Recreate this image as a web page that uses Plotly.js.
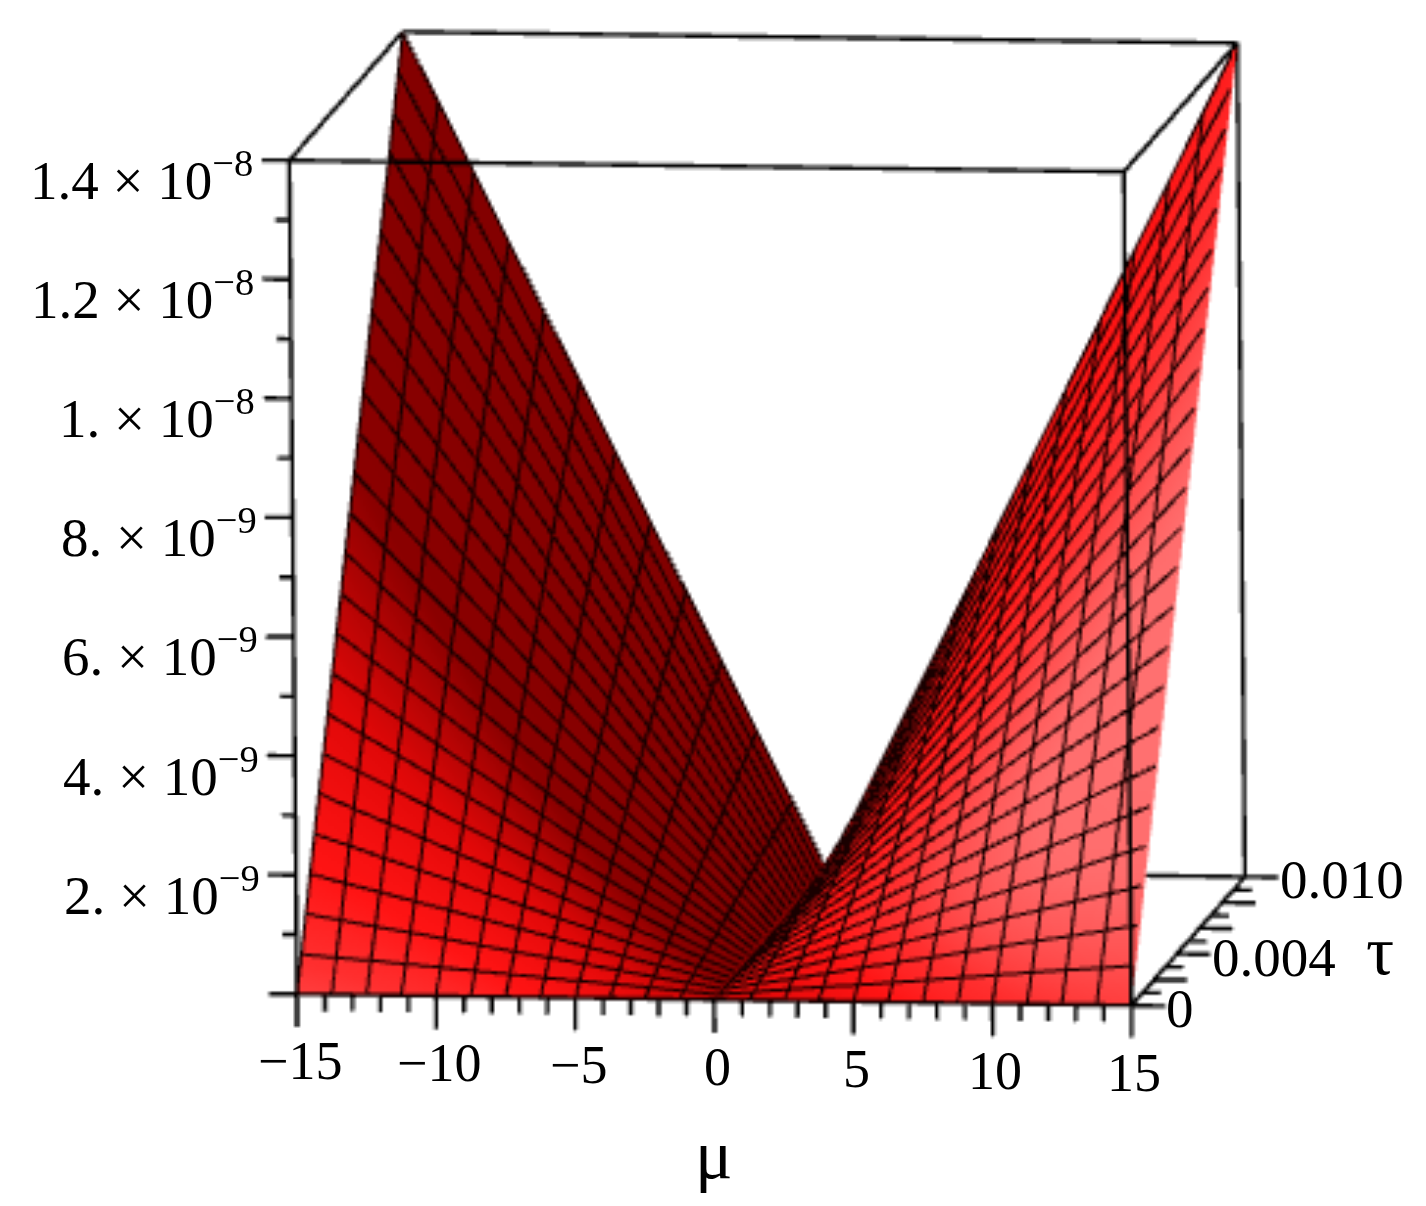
<!DOCTYPE html>
<html>
<head>
<meta charset="utf-8">
<script src="https://cdn.plot.ly/plotly-3.0.1.min.js"></script>
<style>html,body{margin:0;padding:0;background:#fff}#plot{width:1426px;height:1206px}#plot svg{filter:blur(0.6px)}</style>
</head>
<body>
<div id="plot"></div>
<script>
// grid: 25 lines each way
const muNegative = [-15,-13.75,-12.5,-11.25,-10,-8.75,-7.5,-6.25,-5,-3.75,-2.5,-1.25,0];
const muPositive = [0,1.25,2.5,3.75,5,6.25,7.5,8.75,10,11.25,12.5,13.75,15];
const tauValues = [0,0.000417,0.000833,0.00125,0.001667,0.002083,0.0025,0.002917,0.003333,0.00375,0.004167,0.004583,0.005,0.005417,0.005833,0.00625,0.006667,0.007083,0.0075,0.007917,0.008333,0.00875,0.009167,0.009583,0.01];
// height in units of 1e-8, one row per tau, columns for mu = 0 .. 15 (surface is mirrored about mu = 0)
const heightPositive = [
[0,0,0,0,0,0,0,0,0,0,0,0,0],
[0,.005,.010,.015,.019,.024,.029,.034,.039,.044,.049,.053,.058],
[0,.010,.019,.029,.039,.049,.058,.068,.078,.088,.097,.107,.117],
[0,.015,.029,.044,.058,.073,.088,.102,.117,.131,.146,.160,.175],
[0,.019,.039,.058,.078,.097,.117,.136,.156,.175,.194,.214,.233],
[0,.024,.049,.073,.097,.122,.146,.170,.194,.219,.243,.267,.292],
[0,.029,.058,.088,.117,.146,.175,.204,.233,.263,.292,.321,.350],
[0,.034,.068,.102,.136,.170,.204,.238,.272,.306,.340,.374,.408],
[0,.039,.078,.117,.156,.194,.233,.272,.311,.350,.389,.428,.467],
[0,.044,.088,.131,.175,.219,.263,.306,.350,.394,.438,.481,.525],
[0,.049,.097,.146,.194,.243,.292,.340,.389,.438,.486,.535,.583],
[0,.053,.107,.160,.214,.267,.321,.374,.428,.481,.535,.588,.642],
[0,.058,.117,.175,.233,.292,.350,.408,.467,.525,.583,.642,.700],
[0,.063,.126,.190,.253,.316,.379,.442,.506,.569,.632,.695,.758],
[0,.068,.136,.204,.272,.340,.408,.476,.544,.613,.681,.749,.817],
[0,.073,.146,.219,.292,.365,.438,.510,.583,.656,.729,.802,.875],
[0,.078,.156,.233,.311,.389,.467,.544,.622,.700,.778,.856,.933],
[0,.083,.165,.248,.331,.413,.496,.578,.661,.744,.826,.909,.992],
[0,.088,.175,.263,.350,.438,.525,.613,.700,.788,.875,.963,1.05],
[0,.092,.185,.277,.369,.462,.554,.647,.739,.831,.924,1.016,1.108],
[0,.097,.194,.292,.389,.486,.583,.681,.778,.875,.972,1.069,1.167],
[0,.102,.204,.306,.408,.510,.613,.715,.817,.919,1.021,1.123,1.225],
[0,.107,.214,.321,.428,.535,.642,.749,.856,.963,1.069,1.176,1.283],
[0,.112,.224,.335,.447,.559,.671,.783,.894,1.006,1.118,1.230,1.342],
[0,.117,.233,.350,.467,.583,.700,.817,.933,1.05,1.167,1.283,1.40]
];
const heightNegative = heightPositive.map(row => row.slice().reverse());

// tick values and labels
const muMajor = [-15,-10,-5,0,5,10,15];
const muMinor = [-14,-13,-12,-11,-9,-8,-7,-6,-4,-3,-2,-1,1,2,3,4,6,7,8,9,11,12,13,14];
const muLabels = ['\u221215','\u221210','\u22125','0','5','10','15'];
const tauMajor = [0,0.002,0.004,0.006,0.008,0.01];
const tauMinor = [0.001,0.003,0.005,0.007,0.009];
const tauLabelValues = [0,0.004,0.01];
const tauLabels = ['0','0.004','0.010'];
const zMajor = [0,0.2,0.4,0.6,0.8,1,1.2,1.4];
const zMinor = [0.1,0.3,0.5,0.7,0.9,1.1,1.3];
const zLabelValues = [0.2,0.4,0.6,0.8,1,1.2,1.4];
const zLabels = ['2.','4.','6.','8.','1.','1.2','1.4'];
const zExponents = ['\u22129','\u22129','\u22129','\u22129','\u22128','\u22128','\u22128'];

const muEnd = [-15,15], tauEnd = [0,0.01], zEnd = [0,1.4];

function segments(list) {
  const x = [], y = [], z = [];
  list.forEach(s => {
    x.push(s[0],s[3],null); y.push(s[1],s[4],null); z.push(s[2],s[5],null);
  });
  return {type:'scatter3d', mode:'lines', x, y, z, hoverinfo:'skip', showlegend:false,
          line:{color:'#000', width:8}, connectgaps:false};
}

// bounding box
const boxEdges = [];
muEnd.forEach(m => tauEnd.forEach(t => boxEdges.push([m,t,zEnd[0],m,t,zEnd[1]])));
muEnd.forEach(m => zEnd.forEach(h => boxEdges.push([m,tauEnd[0],h,m,tauEnd[1],h])));
tauEnd.forEach(t => zEnd.forEach(h => boxEdges.push([muEnd[0],t,h,muEnd[1],t,h])));

// tick marks
const tickEdges = [];
muMajor.forEach(m => tickEdges.push([m,0,0,m,0,-0.055]));
muMinor.forEach(m => tickEdges.push([m,0,0,m,0,-0.028]));
tauMajor.forEach(t => tickEdges.push([15,t,0,16.2,t,0]));
tauMinor.forEach(t => tickEdges.push([15,t,0,15.65,t,0]));
zMajor.forEach(h => tickEdges.push([-15,0,h,-16,0,h]));
zMinor.forEach(h => tickEdges.push([-15,0,h,-15.5,0,h]));

// shading: a light up front and to the left, applied to the facet normal of each side
const lightDir = [-0.4,-0.7,0.6];
const shadeStops = [[0,'#800000'],[0.48,'#8a0000'],[0.68,'#e00808'],[0.83,'#ff1414'],[0.9,'#ff3030'],[0.98,'#ff6c6c'],[1,'#ff7070']];
function shade(mus, side) {
  return tauValues.map(t => mus.map(m => {
    const tn = t/0.01, mn = Math.abs(m)/15;
    const n = [-2*tn*side,-mn,1];
    const len = Math.hypot(n[0],n[1],n[2]);
    return (n[0]*lightDir[0]+n[1]*lightDir[1]+n[2]*lightDir[2])/len;
  }));
}

function sheet(mus, heights, side) {
  return {
    type:'surface', x:mus, y:tauValues, z:heights,
    surfacecolor:shade(mus,side), cmin:0, cmax:1, colorscale:shadeStops, showscale:false, hoverinfo:'skip',
    lighting:{ambient:1, diffuse:0, specular:0, roughness:1, fresnel:0},
    contours:{
      x:{show:true, start:-15, end:15, size:1.25, color:'#1a0000', width:1, highlight:false},
      y:{show:true, start:0, end:0.01, size:0.01/24, color:'#1a0000', width:1, highlight:false},
      z:{highlight:false}
    }
  };
}

// labels as annotations tied to the 3d scales
const serif = '"Liberation Serif", serif';
const muFont = {family:serif, size:54, color:'#000'};
const tauFont = {family:serif, size:55, color:'#000'};
const zFont = {family:serif, size:55, color:'#000'};
const symbolFont = {family:serif, size:70, color:'#000'};
const annotations = [];
muMajor.forEach((m,i) => annotations.push({x:m,y:0,z:0,text:muLabels[i],showarrow:false,font:muFont,xanchor:'center',yanchor:'middle',xshift:3,yshift:-67}));
tauLabelValues.forEach((t,i) => annotations.push({x:15,y:t,z:0,text:tauLabels[i],showarrow:false,font:tauFont,xanchor:'left',yanchor:'middle',xshift:33,yshift:-3}));
zLabelValues.forEach((h,i) => annotations.push({x:-15,y:0,z:h,text:zLabels[i]+' \u00d7 10<sup>'+zExponents[i]+'</sup>',showarrow:false,font:zFont,xanchor:'right',yanchor:'middle',xshift:-34,yshift:-16}));
annotations.push({x:0,y:0,z:0,text:'\u03bc',showarrow:false,font:symbolFont,xanchor:'center',yanchor:'middle',yshift:-155});
annotations.push({x:15,y:0.004,z:0,text:'\u03c4',showarrow:false,font:symbolFont,xanchor:'center',yanchor:'middle',xshift:203,yshift:4});

const hiddenAxis = range => ({range, showline:false, showticklabels:false, ticks:'', showgrid:false, zeroline:false, showbackground:false, showspikes:false, title:{text:''}});

const layout = {
  width:1426, height:1206, paper_bgcolor:'#fff', margin:{l:0,r:0,t:0,b:0}, showlegend:false,
  scene:{
    domain:{x:[0,1],y:[0,1]},
    xaxis:hiddenAxis([-16.5,16.5]),
    yaxis:hiddenAxis([-0.0002,0.0102]),
    zaxis:hiddenAxis([-0.07,1.45]),
    aspectmode:'manual',
    aspectratio:{x:1.5345,y:1.3943,z:1.5206},
    camera:{
      projection:{type:'orthographic'},
      center:{x:-0.0871,y:-0.0317,z:-0.1276},
      up:{x:-0.013,y:0.1559,z:0.9882},
      eye:{x:0.1929,y:-1.9917,z:0.1919}
    },
    annotations
  }
};

Plotly.newPlot('plot',[sheet(muNegative,heightNegative,-1),sheet(muPositive,heightPositive,1),segments(boxEdges),segments(tickEdges)],layout,{displayModeBar:false,plotGlPixelRatio:0.34});
</script>
</body>
</html>
